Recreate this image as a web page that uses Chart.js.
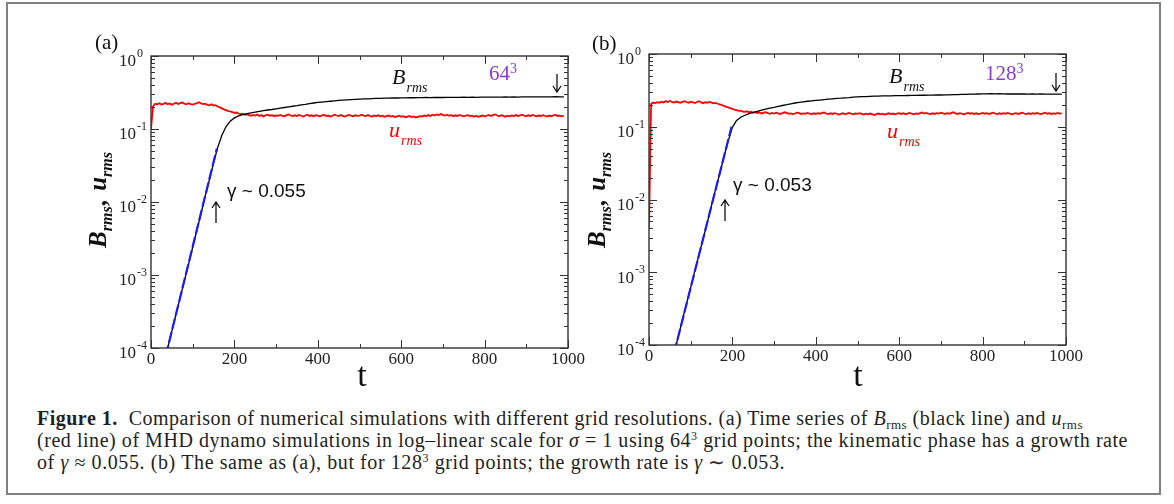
<!DOCTYPE html>
<html><head><meta charset="utf-8">
<script src="https://cdn.jsdelivr.net/npm/chart.js@4"></script>
<style>
html,body{margin:0;padding:0;background:#fff;}
#wrap{position:relative;width:1174px;height:504px;overflow:hidden;background:#fff;}
#frame{position:absolute;left:6px;top:2px;width:1155px;height:493px;box-sizing:border-box;border:2px solid #808080;}
canvas{position:absolute;top:0;}
#cL{left:0;} #cR{left:580px;}
.cap{position:absolute;left:37px;font-family:'Liberation Serif','Times New Roman',serif;font-size:20px;color:#231f20;white-space:nowrap;line-height:22px;}
.sb{font-size:13px;position:relative;top:4px;}
.sp{font-size:12px;position:relative;top:-7px;}
</style></head>
<body>
<div id="wrap">
<div id="frame"></div>
<canvas id="cL" width="600" height="400"></canvas>
<canvas id="cR" width="594" height="400"></canvas>
<div class="cap" id="l1" style="top:407px"><b>Figure 1.</b>&nbsp;&nbsp;Comparison of numerical simulations with different grid resolutions. (a) Time series of <i>B</i><span class="sb">rms</span> (black line) and <i>u</i><span class="sb">rms</span></div>
<div class="cap" id="l2" style="top:429px">(red line) of MHD dynamo simulations in log–linear scale for <i>σ</i> = 1 using 64<span class="sp">3</span> grid points; the kinematic phase has a growth rate</div>
<div class="cap" id="l3" style="top:451px">of <i>γ</i> ≈ 0.055. (b) The same as (a), but for 128<span class="sp">3</span> grid points; the growth rate is <i>γ</i> ∼ 0.053.</div>
</div>
<script>
// ---------------- DATA ----------------
// time grid for B_rms (step 10) and u_rms (step 5)
const tB = Array.from({length:100}, (_, i) => i * 10);
const tU = Array.from({length:199}, (_, i) => i * 5);

// panel (a) 64^3
const B64 = [
  1.2e-5, 2.0e-5, 3.5e-5, 5.9e-5, 1.0e-4, 1.7e-4, 2.9e-4, 4.9e-4, 8.3e-4, 1.4e-3,
  2.4e-3, 4.1e-3, 7.0e-3, 1.2e-2, 2.0e-2, 3.4e-2, 5.6e-2, 0.082, 0.108, 0.128,
  0.142, 0.151, 0.157, 0.162, 0.166, 0.170, 0.174, 0.178, 0.182, 0.185,
  0.189, 0.193, 0.197, 0.201, 0.205, 0.209, 0.214, 0.218, 0.223, 0.227,
  0.231, 0.234, 0.237, 0.240, 0.243, 0.246, 0.248, 0.250, 0.252, 0.254,
  0.256, 0.258, 0.259, 0.261, 0.262, 0.263, 0.264, 0.265, 0.266, 0.266,
  0.267, 0.267, 0.268, 0.268, 0.269, 0.269, 0.270, 0.269, 0.270, 0.271,
  0.270, 0.271, 0.272, 0.271, 0.272, 0.273, 0.272, 0.273, 0.272, 0.273,
  0.274, 0.273, 0.274, 0.273, 0.274, 0.275, 0.274, 0.275, 0.274, 0.275,
  0.276, 0.275, 0.276, 0.275, 0.276, 0.275, 0.276, 0.277, 0.276, 0.276
];
const U64 = [
  0.10, 0.205, 0.222, 0.218, 0.225, 0.216, 0.221, 0.228, 0.219, 0.224, 0.215, 0.222, 0.229, 0.220, 0.226, 0.231, 0.222, 0.218, 0.225, 0.219,
  0.216, 0.221, 0.227, 0.232, 0.224, 0.219, 0.222, 0.214, 0.211, 0.218, 0.209, 0.212, 0.203, 0.198, 0.192, 0.186, 0.181, 0.176, 0.174, 0.170,
  0.166, 0.168, 0.163, 0.160, 0.162, 0.157, 0.159, 0.155, 0.152, 0.156, 0.153, 0.158, 0.151, 0.155, 0.149, 0.154, 0.157, 0.152, 0.155, 0.150,
  0.154, 0.152, 0.156, 0.151, 0.149, 0.155, 0.158, 0.153, 0.150, 0.154, 0.151, 0.156, 0.152, 0.148, 0.153, 0.157, 0.151, 0.154, 0.150, 0.155,
  0.152, 0.149, 0.154, 0.156, 0.151, 0.153, 0.148, 0.152, 0.157, 0.153, 0.150, 0.155, 0.151, 0.148, 0.153, 0.156, 0.152, 0.149, 0.154, 0.151,
  0.153, 0.157, 0.152, 0.150, 0.155, 0.151, 0.148, 0.153, 0.150, 0.154, 0.149, 0.152, 0.147, 0.150, 0.153, 0.148, 0.151, 0.146, 0.149, 0.152,
  0.147, 0.150, 0.145, 0.148, 0.151, 0.146, 0.149, 0.144, 0.147, 0.150, 0.148, 0.153, 0.150, 0.155, 0.151, 0.157, 0.153, 0.158, 0.155, 0.160,
  0.156, 0.153, 0.157, 0.152, 0.155, 0.150, 0.154, 0.151, 0.156, 0.152, 0.149, 0.153, 0.155, 0.150, 0.152, 0.148, 0.151, 0.147, 0.150, 0.153,
  0.149, 0.152, 0.156, 0.151, 0.155, 0.158, 0.153, 0.150, 0.154, 0.151, 0.147, 0.152, 0.149, 0.153, 0.150, 0.155, 0.151, 0.154, 0.157, 0.152,
  0.150, 0.154, 0.151, 0.156, 0.152, 0.149, 0.153, 0.150, 0.155, 0.152, 0.148, 0.153, 0.150, 0.154, 0.156, 0.151, 0.153, 0.149, 0.152
];
const tFit64 = [35, 158];
const fit64 = [7.7e-5, 0.054];

// panel (b) 128^3
const B128 = [
  3.4e-6, 5.8e-6, 1.0e-5, 1.6e-5, 2.8e-5, 4.6e-5, 7.7e-5, 1.3e-4, 2.2e-4, 3.7e-4,
  6.2e-4, 1.05e-3, 1.75e-3, 2.9e-3, 4.9e-3, 8.3e-3, 1.4e-2, 2.3e-2, 3.9e-2, 6.4e-2,
  0.098, 0.122, 0.135, 0.144, 0.151, 0.157, 0.163, 0.169, 0.175, 0.180,
  0.185, 0.191, 0.196, 0.201, 0.207, 0.212, 0.216, 0.220, 0.224, 0.227,
  0.230, 0.233, 0.236, 0.239, 0.242, 0.245, 0.247, 0.250, 0.252, 0.255,
  0.257, 0.259, 0.260, 0.262, 0.263, 0.264, 0.265, 0.266, 0.266, 0.267,
  0.268, 0.268, 0.269, 0.270, 0.270, 0.271, 0.271, 0.272, 0.272, 0.273,
  0.273, 0.274, 0.275, 0.276, 0.277, 0.278, 0.279, 0.280, 0.281, 0.282,
  0.283, 0.283, 0.284, 0.283, 0.284, 0.283, 0.282, 0.283, 0.282, 0.283,
  0.282, 0.281, 0.282, 0.281, 0.282, 0.281, 0.280, 0.281, 0.280, 0.281
];
const U128 = [
  0.004, 0.205, 0.215, 0.212, 0.218, 0.214, 0.221, 0.216, 0.225, 0.219, 0.226, 0.220, 0.215, 0.222, 0.218, 0.213, 0.220, 0.225, 0.219, 0.214,
  0.221, 0.217, 0.212, 0.219, 0.224, 0.216, 0.211, 0.218, 0.214, 0.220, 0.215, 0.210, 0.213, 0.207, 0.203, 0.198, 0.194, 0.188, 0.185, 0.180,
  0.176, 0.172, 0.169, 0.165, 0.166, 0.162, 0.160, 0.163, 0.158, 0.161, 0.156, 0.159, 0.154, 0.157, 0.152, 0.156, 0.159, 0.154, 0.151, 0.155,
  0.152, 0.156, 0.153, 0.150, 0.154, 0.158, 0.155, 0.151, 0.153, 0.149, 0.152, 0.156, 0.154, 0.150, 0.153, 0.151, 0.155, 0.152, 0.149, 0.153,
  0.150, 0.154, 0.151, 0.155, 0.157, 0.152, 0.149, 0.153, 0.150, 0.154, 0.151, 0.147, 0.150, 0.153, 0.149, 0.152, 0.155, 0.151, 0.148, 0.152,
  0.150, 0.154, 0.150, 0.147, 0.151, 0.148, 0.152, 0.149, 0.145, 0.149, 0.152, 0.148, 0.151, 0.147, 0.150, 0.153, 0.149, 0.152, 0.148, 0.151,
  0.154, 0.150, 0.153, 0.149, 0.152, 0.155, 0.151, 0.148, 0.152, 0.150, 0.154, 0.157, 0.152, 0.155, 0.151, 0.149, 0.153, 0.150, 0.154, 0.152,
  0.156, 0.153, 0.150, 0.154, 0.151, 0.155, 0.158, 0.153, 0.150, 0.154, 0.151, 0.148, 0.152, 0.155, 0.151, 0.154, 0.150, 0.153, 0.149, 0.152,
  0.155, 0.151, 0.154, 0.150, 0.153, 0.156, 0.152, 0.149, 0.153, 0.150, 0.154, 0.151, 0.155, 0.152, 0.148, 0.151, 0.154, 0.150, 0.153, 0.156,
  0.152, 0.149, 0.153, 0.150, 0.154, 0.151, 0.155, 0.152, 0.149, 0.153, 0.156, 0.151, 0.154, 0.150, 0.153, 0.151, 0.155, 0.152, 0.153
];
const tFit128 = [60, 198];
const fit128 = [7.7e-5, 0.10];

// ticks
const xTicks = [0, 200, 400, 600, 800, 1000];
const xTickLabels = ['0', '200', '400', '600', '800', '1000'];
const xMinorTicks = [100, 300, 500, 700, 900];
const yTicks = [1e-4, 1e-3, 1e-2, 1e-1, 1];
const yTickExps = ['-4', '-3', '-2', '-1', '0'];

// ---------------- DRAWING ----------------
const SERIF = "'Liberation Serif', 'Times New Roman', serif";
const SANS = "'Liberation Sans', Arial, sans-serif";
const xy = (t, v) => t.map((x, i) => ({x, y: v[i]}));

function drawRich(ctx, parts, x, y) {
  let cx = x;
  parts.forEach(p => {
    ctx.font = p.font;
    ctx.fillStyle = p.color || '#111';
    ctx.fillText(p.t, cx, y + (p.dy || 0));
    cx += ctx.measureText(p.t).width + (p.gap || 0);
  });
}
function richWidth(ctx, parts) {
  let w = 0;
  parts.forEach(p => { ctx.font = p.font; w += ctx.measureText(p.t).width + (p.gap || 0); });
  return w;
}
function arrow(ctx, x, yTail, yHead) {
  const d = yHead < yTail ? 1 : -1;
  ctx.beginPath();
  ctx.moveTo(x, yTail); ctx.lineTo(x, yHead);
  ctx.moveTo(x - 4, yHead + d * 6); ctx.lineTo(x, yHead); ctx.lineTo(x + 4, yHead + d * 6);
  ctx.stroke();
}

function makePanel(canvasId, A) {
  const plugin = {
    id: 'panel',
    afterDraw(chart) {
      const {ctx, chartArea: a, scales: {x, y}} = chart;
      ctx.save();
      // frame
      ctx.strokeStyle = '#333'; ctx.lineWidth = 1.4;
      ctx.strokeRect(a.left, a.top, a.right - a.left, a.bottom - a.top);
      ctx.lineWidth = 1;
      ctx.beginPath();
      xTicks.forEach(v => { const p = Math.round(x.getPixelForValue(v)) + 0.5;
        ctx.moveTo(p, a.bottom); ctx.lineTo(p, a.bottom - 8); ctx.moveTo(p, a.top); ctx.lineTo(p, a.top + 8); });
      xMinorTicks.forEach(v => { const p = Math.round(x.getPixelForValue(v)) + 0.5;
        ctx.moveTo(p, a.bottom); ctx.lineTo(p, a.bottom - 4); ctx.moveTo(p, a.top); ctx.lineTo(p, a.top + 4); });
      yTicks.forEach((v, i) => {
        const p = Math.round(y.getPixelForValue(v)) + 0.5;
        ctx.moveTo(a.left, p); ctx.lineTo(a.left + 8, p); ctx.moveTo(a.right, p); ctx.lineTo(a.right - 8, p);
        if (i < yTicks.length - 1) {
          for (let m = 2; m <= 9; m++) {
            const q = Math.round(y.getPixelForValue(v * m)) + 0.5;
            ctx.moveTo(a.left, q); ctx.lineTo(a.left + 4, q); ctx.moveTo(a.right, q); ctx.lineTo(a.right - 4, q);
          }
        }
      });
      ctx.stroke();
      // tick labels
      ctx.fillStyle = '#222';
      ctx.textBaseline = 'middle';
      ctx.font = '17px ' + SERIF;
      ctx.textAlign = 'center';
      xTicks.forEach((v, i) => ctx.fillText(xTickLabels[i], x.getPixelForValue(v), a.bottom + 12));
      yTicks.forEach((v, i) => {
        const p = y.getPixelForValue(v);
        ctx.font = '17px ' + SERIF; ctx.textAlign = 'right';
        ctx.fillText('10', a.left - 15, p + 6);
        ctx.font = '12px ' + SERIF; ctx.textAlign = 'left';
        ctx.fillText(yTickExps[i], a.left - 14, p - 2);
      });
      // axis titles
      ctx.textAlign = 'center';
      ctx.font = '34px ' + SERIF; ctx.fillStyle = '#111';
      ctx.fillText('t', A.tX, A.tY);
      const yt = [
        {t: 'B', font: 'bold italic 25px ' + SERIF},
        {t: 'rms', font: 'bold italic 16px ' + SERIF, dy: 6, gap: 1},
        {t: ', ', font: 'bold italic 25px ' + SERIF, gap: 2},
        {t: 'u', font: 'bold italic 25px ' + SERIF},
        {t: 'rms', font: 'bold italic 16px ' + SERIF, dy: 6}
      ];
      ctx.save();
      ctx.translate(A.ytX, A.ytY); ctx.rotate(-Math.PI / 2);
      ctx.textAlign = 'left'; ctx.textBaseline = 'alphabetic';
      drawRich(ctx, yt, -richWidth(ctx, yt) / 2, 0);
      ctx.restore();
      // annotations
      ctx.textAlign = 'left'; ctx.textBaseline = 'middle';
      ctx.font = '21px ' + SERIF; ctx.fillStyle = '#111';
      ctx.fillText(A.panel, A.pX, A.pY);
      drawRich(ctx, [{t: 'B', font: 'italic 22px ' + SERIF, gap: 1}, {t: 'rms', font: 'italic 14px ' + SERIF, dy: 10}], A.bX, A.bY);
      drawRich(ctx, [{t: 'u', font: 'italic 22px ' + SERIF, color: '#ff0000', gap: 1}, {t: 'rms', font: 'italic 14px ' + SERIF, dy: 10, color: '#ff0000'}], A.uX, A.uY);
      drawRich(ctx, [{t: A.res, font: '21px ' + SERIF, color: '#8a3ccf'}, {t: '3', font: '14px ' + SERIF, dy: -5, color: '#8a3ccf'}], A.rX, A.rY);
      ctx.font = '19px ' + SANS; ctx.fillStyle = '#111';
      ctx.fillText(A.gamma, A.gX, A.gY);
      ctx.strokeStyle = '#111'; ctx.lineWidth = 1.3;
      arrow(ctx, A.dX, A.dY1, A.dY2);
      arrow(ctx, A.aX, A.aY1, A.aY2);
      ctx.restore();
    }
  };
  return new Chart(document.getElementById(canvasId), {
    type: 'line',
    data: {datasets: [
      {data: xy(A.tFit, A.fit), borderColor: '#1a1aff', borderWidth: 2.2, borderDash: [11, 3], order: 0},
      {data: xy(tB, A.B), borderColor: '#000', borderWidth: 1.3, order: 1},
      {data: xy(tU, A.U), borderColor: '#ff0000', borderWidth: 1.8, order: 2}
    ]},
    options: {
      responsive: false, animation: false, devicePixelRatio: 1,
      layout: {padding: A.pad},
      plugins: {legend: {display: false}, tooltip: {enabled: false}},
      elements: {point: {radius: 0}, line: {tension: 0}},
      scales: {
        x: {type: 'linear', min: 0, max: 1000, display: false},
        y: {type: 'logarithmic', min: 1e-4, max: 1, display: false}
      }
    },
    plugins: [plugin]
  });
}

makePanel('cL', {
  B: B64, U: U64, tFit: tFit64, fit: fit64,
  pad: {left: 151, right: 32, top: 56, bottom: 52},
  panel: '(a)', pX: 95, pY: 43, res: '64', rX: 489, rY: 74,
  bX: 392, bY: 78, uX: 389, uY: 131, gamma: 'γ ~ 0.055', gX: 227, gY: 192,
  dX: 557, dY1: 74, dY2: 92, aX: 216, aY1: 223, aY2: 202,
  tX: 362, tY: 377, ytX: 106, ytY: 200
});
makePanel('cR', {
  B: B128, U: U128, tFit: tFit128, fit: fit128,
  pad: {left: 69, right: 108, top: 54, bottom: 55},
  panel: '(b)', pX: 12, pY: 44, res: '128', rX: 405, rY: 74,
  bX: 309, bY: 77, uX: 307, uY: 132, gamma: 'γ ~ 0.053', gX: 153, gY: 186,
  dX: 476, dY1: 73, dY2: 91, aX: 145, aY1: 221, aY2: 200,
  tX: 278, tY: 377, ytX: 25, ytY: 200
});

// fit caption line widths to the reference
const targets = {l1: 1046, l2: 1091, l3: 748};
Object.keys(targets).forEach(id => {
  const el = document.getElementById(id);
  const w = el.getBoundingClientRect().width;
  const n = el.textContent.length;
  el.style.letterSpacing = ((targets[id] - w) / n).toFixed(3) + 'px';
});
</script>
</body></html>
